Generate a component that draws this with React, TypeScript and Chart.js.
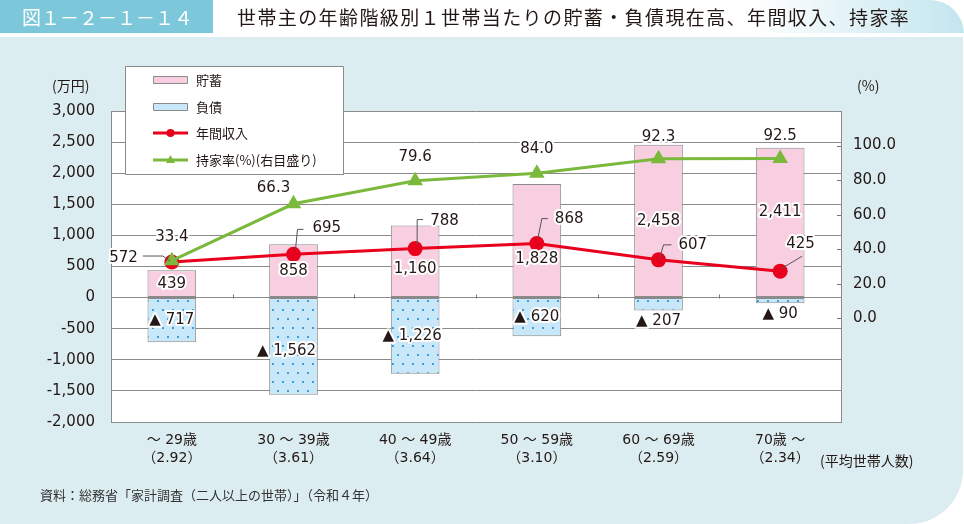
import React, { useEffect, useRef } from "react";
import { Chart, registerables } from "chart.js";
Chart.register(...registerables);

// ---------- data ----------
const categories: string[][] = [
  ["～ 29歳", "（2.92）"],
  ["30 ～ 39歳", "（3.61）"],
  ["40 ～ 49歳", "（3.64）"],
  ["50 ～ 59歳", "（3.10）"],
  ["60 ～ 69歳", "（2.59）"],
  ["70歳 ～", "（2.34）"],
];
const savings = [439, 858, 1160, 1828, 2458, 2411];
const debt = [-717, -1562, -1226, -620, -207, -90];
const income = [572, 695, 788, 868, 607, 425];
const homeOwnership = [33.4, 66.3, 79.6, 84.0, 92.3, 92.5];
const leftAxisRange = [-2000, 3000];
const leftAxisStep = 500;
const rightAxisRange = [-60, 120];
const rightAxisStep = 20;
const rightTickLabels = [0, 20, 40, 60, 80, 100];
const legendLabels = ["貯蓄", "負債", "年間収入", "持家率(%)(右目盛り)"];
const figureNo = "図１－２－１－１４";
const titleText = "世帯主の年齢階級別１世帯当たりの貯蓄・負債現在高、年間収入、持家率";
const leftUnit = "(万円)";
const rightUnit = "(%)";
const xNote = "(平均世帯人数)";
const sourceText = "資料：総務省「家計調査（二人以上の世帯）」（令和４年）";

// ---------- styles ----------
const W = 964;
const H = 524;
const TEXT = "#231815";
const NUM_FONT = '"DejaVu Sans", "Noto Sans CJK JP", sans-serif';
const JP_FONT = '"Noto Sans CJK JP", sans-serif';
const PINK = "#f8cfe1";
const BLUE_BG = "#c8e7f8";
const BLUE_DOT = "#3d9fdb";
const RED = "#e8001c";
const GREEN = "#7bb93d";
const GRID = "#8a8a8a";
const PANEL = "#dcedf1";

// label layout tweaks (pixel offsets for annotation placement)
const savingsLabelDy = [0, 0, 8, 19, 0, -10];
const debtLabelDx = [0, -7, -3, 0, 0, 0];
const debtLabelDy = [0, 5, 0, 0, 0, 0];
const ownLabelOffset = [[0, -24], [-20, -16], [0, -24], [0, -24], [0, -22], [0, -22]];
const incomeLabelLayout = [
  { t: [-34, -4, "right"], p: [[-29, -6], [-9, -6], [-2, -1]] },
  { t: [19, -26, "left"], p: [[2, -5], [4, -25], [10, -25]] },
  { t: [15, -27, "left"], p: [[2, -4], [2, -29], [8, -29]] },
  { t: [18, -25, "left"], p: [[1, -5], [5, -25], [11, -25]] },
  { t: [20, -15, "left"], p: [[1, -1], [5, -15], [13, -15]] },
  { t: [6, -27, "left"], p: [[2, -3], [22, -15]] },
];

function makePattern(): CanvasPattern | string {
  const c = document.createElement("canvas");
  c.width = 10;
  c.height = 18;
  const g = c.getContext("2d");
  if (!g) return BLUE_BG;
  g.fillStyle = BLUE_BG;
  g.fillRect(0, 0, 10, 18);
  g.fillStyle = BLUE_DOT;
  g.fillRect(2, 3, 2, 2);
  g.fillRect(7, 12, 2, 2);
  return g.createPattern(c, "repeat") || BLUE_BG;
}

function fmt(v: number) {
  return Math.abs(v).toLocaleString("en-US");
}

function haloText(ctx: CanvasRenderingContext2D, text: string, x: number, y: number, align: CanvasTextAlign = "center", font = `15px ${NUM_FONT}`) {
  ctx.font = font;
  ctx.textAlign = align;
  ctx.textBaseline = "middle";
  ctx.lineJoin = "round";
  ctx.strokeStyle = "#ffffff";
  ctx.lineWidth = 4;
  ctx.strokeText(text, x, y);
  ctx.fillStyle = TEXT;
  ctx.fillText(text, x, y);
}

function plainText(ctx: CanvasRenderingContext2D, text: string, x: number, y: number, font: string, color = TEXT, align: CanvasTextAlign = "left") {
  ctx.font = font;
  ctx.textAlign = align;
  ctx.textBaseline = "middle";
  ctx.fillStyle = color;
  ctx.fillText(text, x, y);
}

export default function App() {
  const ref = useRef<HTMLCanvasElement | null>(null);

  useEffect(() => {
    const canvas = ref.current;
    if (!canvas) return;
    const pattern = makePattern();

    const decor = {
      id: "decor",
      beforeDraw(chart: any) {
        const ctx: CanvasRenderingContext2D = chart.ctx;
        const a = chart.chartArea;
        ctx.save();
        ctx.fillStyle = "#ffffff";
        ctx.fillRect(0, 0, W, H);
        // panel
        ctx.fillStyle = PANEL;
        ctx.beginPath();
        ctx.moveTo(0, 37);
        ctx.lineTo(963, 37);
        ctx.lineTo(963, 470);
        ctx.arcTo(963, 524, 909, 524, 54);
        ctx.lineTo(0, 524);
        ctx.closePath();
        ctx.fill();
        // title strip
        const g = ctx.createLinearGradient(213, 0, 964, 0);
        g.addColorStop(0, "#ffffff");
        g.addColorStop(0.72, "#ffffff");
        g.addColorStop(1, "#c3e5ef");
        ctx.fillStyle = g;
        ctx.beginPath();
        ctx.moveTo(213, 0);
        ctx.lineTo(930, 0);
        ctx.arcTo(964, 0, 964, 33, 34);
        ctx.lineTo(964, 33);
        ctx.lineTo(213, 33);
        ctx.closePath();
        ctx.fill();
        ctx.fillStyle = "#7cc7da";
        ctx.fillRect(0, 0, 213, 33);
        plainText(ctx, figureNo, 22, 18, `19px ${JP_FONT}`, "#ffffff");
        (ctx as any).letterSpacing = "1.4px";
        plainText(ctx, titleText, 237, 18, `19px ${JP_FONT}`, TEXT);
        (ctx as any).letterSpacing = "0px";
        // plot background
        ctx.fillStyle = "#ffffff";
        ctx.fillRect(a.left, a.top, a.right - a.left, a.bottom - a.top);
        ctx.restore();
      },
      afterDraw(chart: any) {
        const ctx: CanvasRenderingContext2D = chart.ctx;
        const a = chart.chartArea;
        const yS = chart.scales.y;
        const y2S = chart.scales.y2;
        ctx.save();
        // category separator ticks on zero line
        const y0 = Math.round(yS.getPixelForValue(0)) + 0.5;
        const cw = (a.right - a.left) / categories.length;
        ctx.strokeStyle = "#777";
        ctx.lineWidth = 1;
        for (let k = 1; k < categories.length; k++) {
          const x = Math.round(a.left + k * cw) + 0.5;
          ctx.beginPath();
          ctx.moveTo(x, y0 - 4);
          ctx.lineTo(x, y0);
          ctx.stroke();
        }
        // right axis inward ticks
        rightTickLabels.forEach((v) => {
          const y = Math.round(y2S.getPixelForValue(v)) + 0.5;
          ctx.beginPath();
          ctx.moveTo(a.right - 4, y);
          ctx.lineTo(a.right, y);
          ctx.stroke();
        });

        const mOwn = chart.getDatasetMeta(0);
        const mInc = chart.getDatasetMeta(1);
        const mSav = chart.getDatasetMeta(2);
        const mDebt = chart.getDatasetMeta(3);

        // savings labels
        mSav.data.forEach((el: any, j: number) => {
          const cy = (el.y + el.base) / 2 + savingsLabelDy[j];
          haloText(ctx, fmt(savings[j]), el.x, cy);
        });
        // debt labels
        mDebt.data.forEach((el: any, j: number) => {
          const h = el.y - el.base;
          let cy = (el.y + el.base) / 2 + debtLabelDy[j];
          if (h < 25) cy = el.y + 11;
          haloText(ctx, "▲ " + fmt(debt[j]), el.x + debtLabelDx[j], cy);
        });
        // income labels with leader lines
        mInc.data.forEach((el: any, j: number) => {
          const L = incomeLabelLayout[j];
          ctx.strokeStyle = "#555";
          ctx.lineWidth = 1;
          ctx.beginPath();
          L.p.forEach((pt: number[], i: number) => {
            if (i === 0) ctx.moveTo(el.x + pt[0], el.y + pt[1]);
            else ctx.lineTo(el.x + pt[0], el.y + pt[1]);
          });
          ctx.stroke();
          haloText(ctx, fmt(income[j]), el.x + (L.t[0] as number), el.y + (L.t[1] as number), L.t[2] as CanvasTextAlign);
        });
        // ownership labels
        mOwn.data.forEach((el: any, j: number) => {
          const o = ownLabelOffset[j];
          haloText(ctx, homeOwnership[j].toFixed(1), el.x + o[0], el.y + o[1]);
        });

        // units & notes
        plainText(ctx, leftUnit, 52, 86, `14px ${JP_FONT}`);
        plainText(ctx, rightUnit, 857, 86, `14px ${JP_FONT}`);
        plainText(ctx, xNote, 820, 461, `14px ${JP_FONT}`);
        plainText(ctx, sourceText, 40, 495, `13px ${JP_FONT}`, "#333");

        // legend
        ctx.fillStyle = "#ffffff";
        ctx.fillRect(125.5, 66.5, 218, 108);
        ctx.strokeStyle = "#8a8a8a";
        ctx.lineWidth = 1;
        ctx.strokeRect(125.5, 66.5, 218, 108);
        const rows = [80, 107, 133, 160];
        // pink swatch
        ctx.fillStyle = PINK;
        ctx.fillRect(153.5, rows[0] - 3.5, 34, 7);
        ctx.strokeStyle = "#8a8a8a";
        ctx.strokeRect(153.5, rows[0] - 3.5, 34, 7);
        // blue swatch
        ctx.fillStyle = pattern as any;
        ctx.fillRect(153.5, rows[1] - 3.5, 34, 7);
        ctx.strokeRect(153.5, rows[1] - 3.5, 34, 7);
        // red line
        ctx.strokeStyle = RED;
        ctx.lineWidth = 3;
        ctx.beginPath();
        ctx.moveTo(153, rows[2]);
        ctx.lineTo(188, rows[2]);
        ctx.stroke();
        ctx.fillStyle = RED;
        ctx.beginPath();
        ctx.arc(170.5, rows[2], 4, 0, Math.PI * 2);
        ctx.fill();
        // green line
        ctx.strokeStyle = GREEN;
        ctx.beginPath();
        ctx.moveTo(153, rows[3]);
        ctx.lineTo(188, rows[3]);
        ctx.stroke();
        ctx.fillStyle = GREEN;
        ctx.beginPath();
        ctx.moveTo(170.5, rows[3] - 5);
        ctx.lineTo(175, rows[3] + 3);
        ctx.lineTo(166, rows[3] + 3);
        ctx.closePath();
        ctx.fill();
        legendLabels.forEach((t, i) => plainText(ctx, t, 196, rows[i], `13px ${JP_FONT}`));
        ctx.restore();
      },
    };

    const chart = new Chart(canvas, {
      type: "bar",
      data: {
        labels: categories,
        datasets: [
          {
            type: "line",
            label: legendLabels[3],
            data: homeOwnership,
            yAxisID: "y2",
            borderColor: GREEN,
            backgroundColor: GREEN,
            borderWidth: 3,
            pointStyle: "triangle",
            pointRadius: 9,
            pointBorderWidth: 0,
            order: 0,
          } as any,
          {
            type: "line",
            label: legendLabels[2],
            data: income,
            yAxisID: "y",
            stack: "income",
            borderColor: RED,
            backgroundColor: RED,
            borderWidth: 3,
            pointStyle: "circle",
            pointRadius: 7.5,
            pointBorderWidth: 0,
            order: 1,
          } as any,
          {
            label: legendLabels[0],
            data: savings,
            yAxisID: "y",
            stack: "bars",
            backgroundColor: PINK,
            borderColor: GRID,
            borderWidth: 1,
            borderSkipped: false,
            barPercentage: 0.4,
            categoryPercentage: 1,
            order: 2,
          },
          {
            label: legendLabels[1],
            data: debt,
            yAxisID: "y",
            stack: "bars",
            backgroundColor: pattern as any,
            borderColor: GRID,
            borderWidth: 1,
            borderSkipped: false,
            barPercentage: 0.4,
            categoryPercentage: 1,
            order: 3,
          },
        ],
      },
      options: {
        responsive: false,
        animation: false,
        devicePixelRatio: 1,
        layout: { padding: { top: 111, left: 0, right: 0, bottom: 0 } },
        plugins: { legend: { display: false }, tooltip: { enabled: false } },
        scales: {
          x: {
            stacked: true,
            grid: { display: false, drawTicks: false },
            border: { display: false },
            ticks: {
              color: TEXT,
              padding: 9,
              font: { family: NUM_FONT, size: 14, lineHeight: 1.3 },
              maxRotation: 0,
              autoSkip: false,
            },
            afterFit: (s: any) => {
              s.height = 102;
            },
          },
          y: {
            stacked: true,
            min: leftAxisRange[0],
            max: leftAxisRange[1],
            grid: { color: GRID, drawTicks: false, lineWidth: 1 },
            border: { display: true, color: GRID },
            ticks: {
              stepSize: leftAxisStep,
              color: TEXT,
              padding: 16,
              font: { family: NUM_FONT, size: 15 },
              callback: (v: any) => Number(v).toLocaleString("en-US"),
            },
            afterFit: (s: any) => {
              s.width = 111;
            },
          },
          y2: {
            position: "right",
            min: rightAxisRange[0],
            max: rightAxisRange[1],
            grid: { drawOnChartArea: false, drawTicks: false },
            border: { display: true, color: GRID },
            ticks: {
              stepSize: rightAxisStep,
              color: TEXT,
              padding: 12,
              font: { family: NUM_FONT, size: 15 },
              autoSkip: false,
              callback: (v: any) => (rightTickLabels.includes(Number(v)) ? Number(v).toFixed(1) : ""),
            },
            afterFit: (s: any) => {
              s.width = 123;
            },
          },
        },
      },
      plugins: [decor],
    });

    return () => chart.destroy();
  }, []);

  return (
    <div style={{ position: "fixed", left: 0, top: 0, width: W, height: H }}>
      <canvas ref={ref} width={W} height={H} style={{ width: W, height: H, display: "block" }} />
    </div>
  );
}
